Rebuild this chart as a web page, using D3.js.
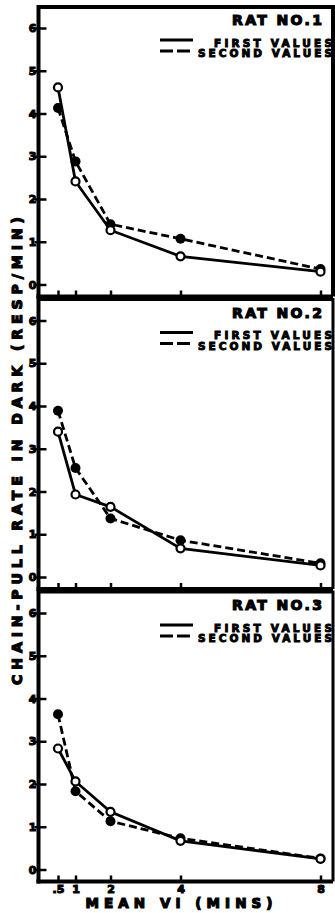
<!DOCTYPE html>
<html>
<head>
<meta charset="utf-8">
<script src="https://cdn.jsdelivr.net/npm/d3@7"></script>
<style>
  body { margin: 0; background: #fff; }
  svg text { font-family: "DejaVu Sans", sans-serif; font-weight: bold; fill: #000; }
</style>
</head>
<body>
<div id="chart"></div>
<script>
// mean VI schedule (mins) on the x axis
var xVals = [0.5, 1, 2, 4, 8];
var xTickLabels = [".5", "1", "2", "4", "8"];
var yTicks = [0, 1, 2, 3, 4, 5, 6];
var rats = ["RAT NO.1", "RAT NO.2", "RAT NO.3"];

// chain-pull rate, resp/min
var firstValues = [
  [4.61, 2.41, 1.27, 0.66, 0.30],
  [3.40, 1.93, 1.64, 0.67, 0.27],
  [2.83, 2.06, 1.35, 0.67, 0.25]
];
var secondValues = [
  [4.13, 2.88, 1.41, 1.07, 0.36],
  [3.89, 2.55, 1.37, 0.86, 0.32],
  [3.63, 1.83, 1.13, 0.73, 0.26]
];

var W = 335, H = 913;
var left = 38.5, right = 333;

var svg = d3.select("#chart").append("svg")
    .attr("width", W)
    .attr("height", H);

var x = d3.scaleLinear().domain([0, 8]).range([left + 2, left + 2 + 280]);

rats.forEach(function(name, i) {
  var top = 7 + i * 292.5;
  var bottom = top + 289.5;
  var y = d3.scaleLinear().domain([0, 6]).range([bottom - 12, top + 21]);

  var g = svg.append("g");

  // frame: top and right edges
  g.append("path")
      .attr("d", "M" + left + "," + top + "H" + right + "V" + bottom)
      .attr("fill", "none")
      .attr("stroke", "#000")
      .attr("stroke-width", i == 0 ? 4 : 3);

  // y axis
  var ya = g.append("g")
      .attr("transform", "translate(" + left + ",0)")
      .call(d3.axisLeft(y).tickValues(yTicks).tickFormat(d3.format("d"))
        .tickSizeInner(-8).tickSizeOuter(0).tickPadding(2));
  ya.select(".domain").attr("d", "M0," + (top - 2) + "V" + (bottom + 2))
      .attr("stroke-width", 4);
  ya.selectAll(".tick line").attr("stroke-width", 2.5).attr("x1", -4);
  ya.selectAll(".tick text")
      .style("font-size", "11px")
      .attr("stroke", "#000").attr("stroke-width", 1.1);

  // x axis
  var xa = g.append("g")
      .attr("transform", "translate(0," + bottom + ")")
      .call(d3.axisBottom(x).tickValues(xVals)
        .tickFormat(function(d, k) { return i == 2 ? xTickLabels[k] : ""; })
        .tickSizeInner(-6).tickSizeOuter(0).tickPadding(4));
  xa.select(".domain").attr("d", "M" + (left - 2) + ",0H" + right)
      .attr("stroke-width", 4);
  xa.selectAll(".tick line").attr("stroke-width", 2.5);
  xa.selectAll(".tick text")
      .style("font-size", "11px")
      .attr("stroke", "#000").attr("stroke-width", 1.1);

  var line = d3.line()
      .x(function(d, k) { return x(xVals[k]); })
      .y(function(d) { return y(d); });

  g.append("path").datum(secondValues[i])
      .attr("d", line)
      .attr("fill", "none").attr("stroke", "#000")
      .attr("stroke-width", 2.8)
      .attr("stroke-dasharray", "8,4");
  g.append("path").datum(firstValues[i])
      .attr("d", line)
      .attr("fill", "none").attr("stroke", "#000")
      .attr("stroke-width", 2.8);

  g.selectAll(".filled").data(secondValues[i]).enter().append("circle")
      .attr("class", "filled")
      .attr("cx", function(d, k) { return x(xVals[k]); })
      .attr("cy", function(d) { return y(d); })
      .attr("r", 5)
      .attr("fill", "#000");
  g.selectAll(".open").data(firstValues[i]).enter().append("circle")
      .attr("class", "open")
      .attr("cx", function(d, k) { return x(xVals[k]); })
      .attr("cy", function(d) { return y(d); })
      .attr("r", 4)
      .attr("fill", "#fff").attr("stroke", "#000").attr("stroke-width", 2.2);

  // legend
  g.append("text")
      .attr("x", 322).attr("y", top + 18)
      .attr("text-anchor", "end")
      .attr("textLength", 90)
      .style("font-size", "14px")
      .attr("stroke", "#000").attr("stroke-width", 1.2)
      .text(name);
  g.append("line")
      .attr("x1", 160).attr("x2", 193)
      .attr("y1", top + 33).attr("y2", top + 33)
      .attr("stroke", "#000").attr("stroke-width", 2.8);
  g.append("line")
      .attr("x1", 160).attr("x2", 194)
      .attr("y1", top + 44).attr("y2", top + 44)
      .attr("stroke", "#000").attr("stroke-width", 2.8)
      .attr("stroke-dasharray", "13,4");
  g.append("text")
      .attr("x", 332).attr("y", top + 39.5)
      .attr("text-anchor", "end")
      .attr("textLength", 118)
      .style("font-size", "10.5px")
      .attr("stroke", "#000").attr("stroke-width", 1)
      .text("FIRST VALUES");
  g.append("text")
      .attr("x", 332).attr("y", top + 50)
      .attr("text-anchor", "end")
      .attr("textLength", 134)
      .style("font-size", "10.5px")
      .attr("stroke", "#000").attr("stroke-width", 1)
      .text("SECOND VALUES");
});

// axis titles
svg.append("text")
    .attr("transform", "translate(22,451) rotate(-90)")
    .attr("text-anchor", "middle")
    .attr("textLength", 468)
    .style("font-size", "14px")
    .attr("stroke", "#000").attr("stroke-width", 1.2)
    .text("CHAIN-PULL RATE IN DARK (RESP/MIN)");

svg.append("text")
    .attr("x", 179).attr("y", 908)
    .attr("text-anchor", "middle")
    .attr("textLength", 187)
    .style("font-size", "13.5px")
    .attr("stroke", "#000").attr("stroke-width", 1.2)
    .text("MEAN VI (MINS)");
</script>
</body>
</html>
